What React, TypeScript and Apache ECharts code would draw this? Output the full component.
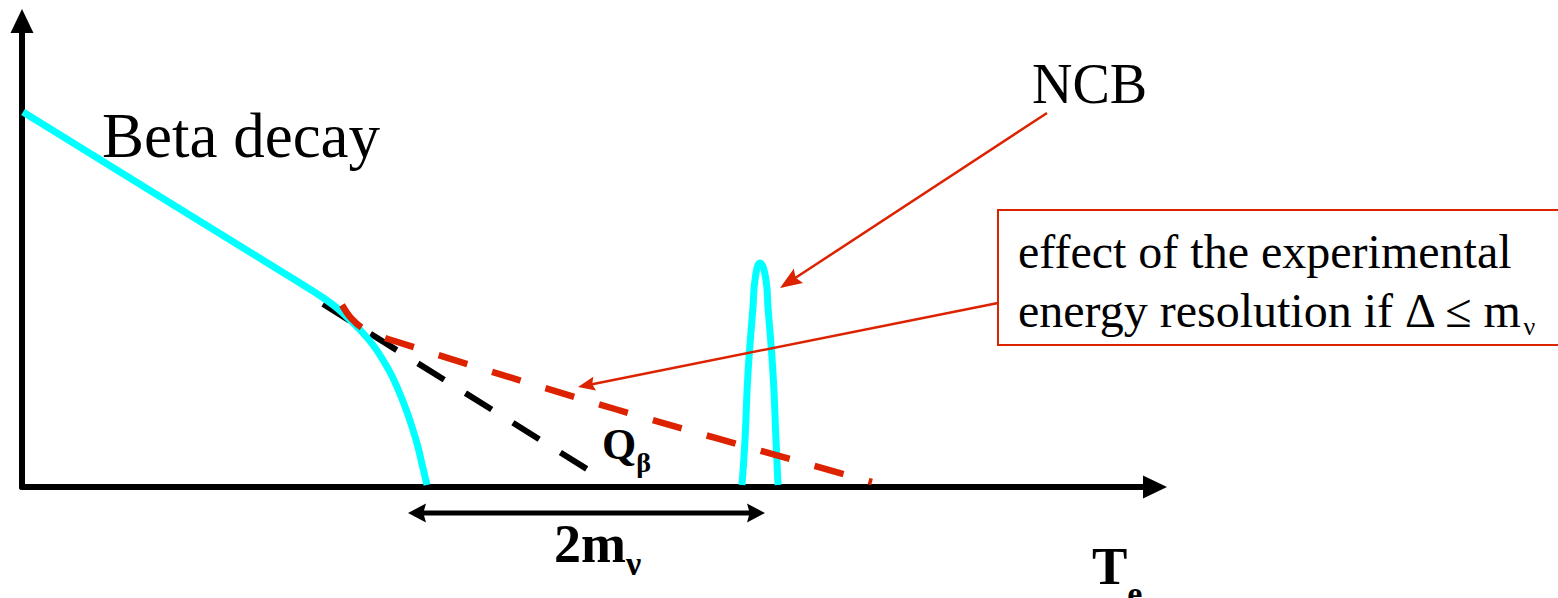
import React, { useEffect, useRef } from "react";
import * as echarts from "echarts";

// Beta-decay spectrum near the endpoint (arbitrary units: T_e, counts)
const betaT = [1, 158, 278, 300, 315, 328, 340, 351, 361, 370, 378, 385, 391, 396, 400, 405];
const betaN = [375, 278, 204, 190, 179, 167, 155, 142, 127, 111, 93, 75, 57, 40, 23, 2];
// massless-neutrino extrapolation up to Q_beta (black dashed)
const masslessT = [301, 568];
const masslessN = [183, 16];
// spectrum smeared by finite experimental resolution (red dashed)
const smearT = [320, 329, 342, 366, 593, 850];
const smearN = [182, 169, 158, 148, 78, 5];
// neutrino capture on beta-decaying nuclei peak (NCB)
const ncbT = [720, 723, 726, 731, 733, 738, 744, 746, 751, 754, 756];
const ncbN = [2, 47, 114, 180, 207, 224, 207, 180, 114, 47, 2];

const X_MAX = 1133;
const Y_MAX = 466;

const CYAN = "#00ffff";
const RED = "#dd2200";
const SERIF = '"Liberation Serif", "Times New Roman", serif';

const zip = (a: number[], b: number[]) => a.map((v, i) => [v, b[i]]);

function arrowHead(
  x1: number, y1: number, x2: number, y2: number,
  len: number, wid: number, color: string, notch = 0.85
) {
  const dx = x2 - x1, dy = y2 - y1;
  const d = Math.hypot(dx, dy);
  const ux = dx / d, uy = dy / d;
  const nx = -uy, ny = ux;
  const bx = x2 - ux * len, by = y2 - uy * len;
  const mx = x2 - ux * len * notch, my = y2 - uy * len * notch;
  return {
    type: "polygon",
    z: 10,
    silent: true,
    shape: {
      points: [
        [x2, y2],
        [bx + (nx * wid) / 2, by + (ny * wid) / 2],
        [mx, my],
        [bx - (nx * wid) / 2, by - (ny * wid) / 2],
      ],
    },
    style: { fill: color },
  };
}

function arrow(
  x1: number, y1: number, x2: number, y2: number,
  len: number, wid: number, color: string, lw: number
) {
  const d = Math.hypot(x2 - x1, y2 - y1);
  const ux = (x2 - x1) / d, uy = (y2 - y1) / d;
  return [
    {
      type: "line",
      z: 10,
      silent: true,
      shape: { x1, y1, x2: x2 - ux * len * 0.7, y2: y2 - uy * len * 0.7 },
      style: { stroke: color, lineWidth: lw },
    },
    arrowHead(x1, y1, x2, y2, len, wid, color),
  ];
}

function label(x: number, y: number, text: string, rich: any) {
  return {
    type: "text",
    z: 11,
    silent: true,
    x,
    y,
    style: { text, rich, align: "left", verticalAlign: "middle" },
  };
}

const tok = (fontSize: number, bold: boolean, extra: any = {}) => ({
  fontSize,
  fontFamily: SERIF,
  fontWeight: bold ? "bold" : "normal",
  fill: "#000",
  verticalAlign: "middle",
  ...extra,
});

const axisCommon = {
  type: "value",
  min: 0,
  axisTick: { show: false },
  axisLabel: { show: false },
  splitLine: { show: false },
  axisLine: {
    show: true,
    onZero: true,
    symbol: ["none", "triangle"],
    symbolSize: [23, 24],
    lineStyle: { color: "#000", width: 6 },
  },
};

export default function App() {
  const ref = useRef<HTMLDivElement>(null);
  useEffect(() => {
    document.body.style.margin = "0";
    const chart = echarts.init(ref.current!, undefined, { renderer: "svg" });
    const option: any = {
      animation: false,
      backgroundColor: "#ffffff",
      grid: { left: 22, right: 403, top: 21, bottom: 111, containLabel: false, outerBoundsMode: "none" },
      xAxis: { ...axisCommon, max: X_MAX },
      yAxis: { ...axisCommon, max: Y_MAX },
      series: [
        {
          name: "Q_beta extrapolation",
          type: "line",
          data: zip(masslessT, masslessN),
          symbol: "none",
          z: 2,
          silent: true,
          lineStyle: { color: "#000", width: 6, type: [31, 25], cap: "butt" },
        },
        {
          name: "Beta decay",
          type: "line",
          data: zip(betaT, betaN),
          symbol: "none",
          smooth: 0.3,
          z: 3,
          silent: true,
          lineStyle: { color: CYAN, width: 7, cap: "butt" },
        },
        {
          name: "NCB",
          type: "line",
          data: zip(ncbT, ncbN),
          symbol: "none",
          smooth: 0.5,
          z: 3,
          silent: true,
          lineStyle: { color: CYAN, width: 7, cap: "butt" },
        },
        {
          name: "Resolution",
          type: "line",
          data: zip(smearT, smearN),
          symbol: "none",
          smooth: 0.35,
          z: 4,
          silent: true,
          lineStyle: { color: RED, width: 6.5, type: [30, 26], cap: "butt" },
        },
      ],
      graphic: [
        {
          type: "rect",
          z: 9,
          silent: true,
          shape: { x: 998, y: 210, width: 640, height: 135 },
          style: { fill: "#ffffff", stroke: RED, lineWidth: 2 },
        },
        ...arrow(1047, 113, 780, 288, 22, 17, RED, 2.5),
        ...arrow(998, 303, 578, 387, 17, 14, RED, 2.5),
        {
          type: "line",
          z: 10,
          silent: true,
          shape: { x1: 420, y1: 513, x2: 753, y2: 513 },
          style: { stroke: "#000", lineWidth: 5 },
        },
        arrowHead(765, 513, 408, 513, 18, 19, "#000"),
        arrowHead(408, 513, 765, 513, 18, 19, "#000"),
        label(102, 136, "{m|Beta decay}", { m: tok(63, false) }),
        label(1032, 84, "{m|NCB}", { m: tok(56, false) }),
        label(1018, 251, "{m|effect of the experimental}", { m: tok(48, false) }),
        label(1018, 310, "{m|energy resolution if Δ ≤ m}{s|ν}", {
          m: tok(48, false),
          s: tok(26, false, { lineHeight: 10, padding: [33, 0, 0, 0] }),
        }),
        label(602, 444, "{m|Q}{s|β}", {
          m: tok(44, true),
          s: tok(28, true, { lineHeight: 10, padding: [37, 0, 0, 0] }),
        }),
        label(554, 544, "{m|2m}{s|ν}", {
          m: tok(54, true),
          s: tok(34, true, { lineHeight: 10, padding: [39, 0, 0, 0] }),
        }),
        label(1092, 566, "{m|T}{s|e}", {
          m: tok(53, true),
          s: tok(34, true, { lineHeight: 10, padding: [54, 0, 0, 0] }),
        }),
      ],
    };
    chart.setOption(option);
    return () => chart.dispose();
  }, []);
  return (
    <div
      ref={ref}
      style={{ position: "fixed", left: 0, top: 0, width: 1558, height: 598, background: "#fff" }}
    />
  );
}
